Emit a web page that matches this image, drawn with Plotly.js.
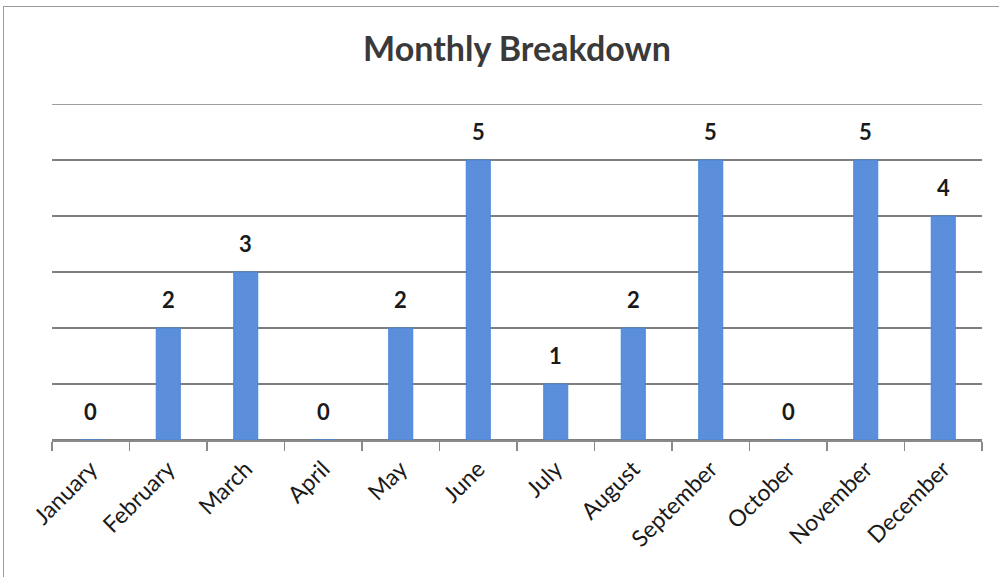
<!DOCTYPE html>
<html><head><meta charset="utf-8">
<script src="https://cdn.plot.ly/plotly-3.0.1.min.js"></script>
<style>
html,body{margin:0;padding:0;background:#fff;}
#wrap{position:relative;width:999px;height:577px;overflow:hidden;}
#frame{position:absolute;left:3px;top:6px;width:1000px;height:580px;border-top:1px solid #9a9a9a;border-left:1px solid #9a9a9a;box-sizing:border-box;pointer-events:none;}
#chart{position:absolute;left:0;top:0;width:999px;height:577px;}
</style></head>
<body><div id="wrap"><div id="chart"></div><div id="frame"></div></div>
<script>
const months = ["January","February","March","April","May","June","July","August","September","October","November","December"];
const counts = [0,2,3,0,2,5,1,2,5,0,5,4];
const yMax = 6;

const trace = {
  type: "bar",
  x: months,
  y: counts,
  marker: {color: "#5b8fdb", line: {color: "#4a85d8", width: 1}},
  hoverinfo: "none"
};

const annotations = months.map((m, i) => ({
  x: m, y: counts[i], xref: "x", yref: "y",
  text: String(counts[i]), showarrow: false,
  yshift: 29, font: {family: "Lato, 'Open Sans', sans-serif", size: 22, color: "#1a1a1a", weight: "bold"}
}));

const layout = {
  width: 999, height: 577,
  margin: {l: 52, r: 17, t: 104, b: 137},
  paper_bgcolor: "#fff", plot_bgcolor: "#fff",
  bargap: 0.69,
  showlegend: false,
  title: {text: "<b>Monthly Breakdown</b>", x: 0.5, xref: "paper", y: 0.915, yref: "container", yanchor: "middle",
    font: {family: "Lato, 'Open Sans', sans-serif", size: 34, color: "#3a3a3a"}},
  xaxis: {
    type: "category",
    tickangle: -45,
    tickson: "boundaries",
    ticks: "outside", ticklen: 9, tickcolor: "#8a8a8a", tickwidth: 1.5,
    ticklabelstandoff: 5,
    showline: true, linecolor: "#8a8a8a", linewidth: 1.5,
    showgrid: false,
    tickfont: {family: "Lato, 'Open Sans', sans-serif", size: 23, color: "#1a1a1a"}
  },
  yaxis: {
    range: [0, yMax], dtick: 1, tick0: 0,
    showticklabels: false, ticks: "",
    showgrid: true, gridcolor: "#7f7f7f", gridwidth: 1.5,
    zeroline: true, zerolinecolor: "#7f7f7f", zerolinewidth: 1.5,
    showline: false, fixedrange: true
  },
  shapes: [{type: "line", xref: "paper", x0: 0, x1: 1, yref: "y", y0: yMax, y1: yMax,
    line: {color: "#7f7f7f", width: 1.5}}],
  annotations: annotations
};

Plotly.newPlot("chart", [trace], layout, {displayModeBar: false, staticPlot: true});
</script></body></html>
